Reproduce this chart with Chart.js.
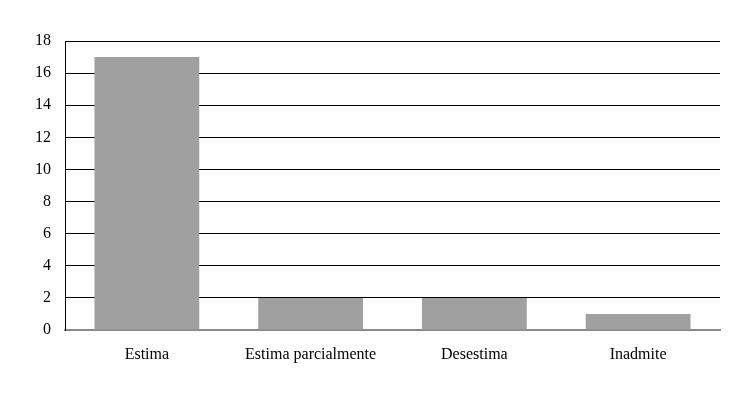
<!DOCTYPE html>
<html>
<head>
<meta charset="utf-8">
<script src="https://cdn.jsdelivr.net/npm/chart.js@4/dist/chart.umd.min.js"></script>
<style>
  html, body { margin: 0; padding: 0; background: #fff; }
  #wrap { width: 753px; height: 394px; }
</style>
</head>
<body>
<div id="wrap"><canvas id="grafico" width="753" height="394"></canvas></div>
<script>
// Datos del gráfico
const categorias = ['Estima', 'Estima parcialmente', 'Desestima', 'Inadmite'];
const valores = [17, 2, 2, 1];
const ticksY = [0, 2, 4, 6, 8, 10, 12, 14, 16, 18];

const fuente = { family: "'Liberation Serif', 'Times New Roman', serif", size: 16 };

new Chart(document.getElementById('grafico'), {
  type: 'bar',
  data: {
    labels: categorias,
    datasets: [{
      label: 'Resoluciones',
      data: valores,
      backgroundColor: '#a0a0a0',
      borderWidth: 0,
      barPercentage: 0.64,
      categoryPercentage: 1
    }]
  },
  options: {
    responsive: false,
    animation: false,
    layout: { padding: { top: 41, right: 33, left: 0, bottom: 0 } },
    plugins: { legend: { display: false }, tooltip: { enabled: false } },
    scales: {
      x: {
        grid: { display: false, drawTicks: false },
        border: { color: '#8a8a8a', width: 2 },
        ticks: { color: '#000', font: fuente, padding: 15 },
        afterFit: s => { s.height = 64; }
      },
      y: {
        min: 0,
        max: 18,
        afterBuildTicks: s => { s.ticks = ticksY.map(v => ({ value: v })); },
        grid: {
          color: ctx => ctx.tick && ctx.tick.value === 0 ? 'rgba(0,0,0,0)' : '#000',
          lineWidth: 1,
          drawTicks: false
        },
        border: { color: '#000', width: 1 },
        ticks: { color: '#000', font: fuente, padding: 14 },
        afterFit: s => { s.width = 65; }
      }
    }
  }
});
</script>
</body>
</html>
